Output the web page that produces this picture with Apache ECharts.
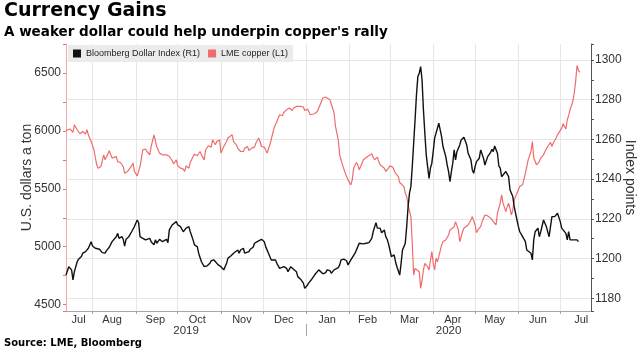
<!DOCTYPE html>
<html><head><meta charset="utf-8">
<script src="https://cdn.jsdelivr.net/npm/echarts@6/dist/echarts.min.js"></script>
<style>html,body{margin:0;padding:0;background:#fff}#c{width:642px;height:361px}</style>
</head><body><div id="c"></div>
<script>
const startDay = '2019-07-13';
const endDay = '2020-07-23';
const monthLabelDays = ['2019-07-22','2019-08-15','2019-09-15','2019-10-15','2019-11-16','2019-12-16','2020-01-16','2020-02-14','2020-03-15','2020-04-15','2020-05-15','2020-06-15','2020-07-16'];
const monthLabelTexts = ['Jul','Aug','Sep','Oct','Nov','Dec','Jan','Feb','Mar','Apr','May','Jun','Jul'];
const yearLabelDays = ['2019-10-07','2020-04-12'];
const yearLabelTexts = ['2019','2020'];
const yearBreakDay = '2020-01-01';
const seriesNames = ['Bloomberg Dollar Index (R1)','LME copper (L1)'];

const copperData = [
['2019-07-13',6004],['2019-07-16',6016],['2019-07-18',5986],['2019-07-19',6053],['2019-07-21',6010],['2019-07-23',5975],['2019-07-25',5995],['2019-07-27',5972],['2019-07-28',6010],['2019-07-29',5966],['2019-07-31',5908],
['2019-08-02',5837],['2019-08-04',5707],['2019-08-05',5678],['2019-08-07',5692],['2019-08-09',5793],['2019-08-10',5750],['2019-08-11',5765],['2019-08-13',5828],['2019-08-15',5765],['2019-08-16',5750],['2019-08-18',5779],['2019-08-19',5735],['2019-08-21',5727],['2019-08-23',5692],['2019-08-24',5635],['2019-08-26',5649],['2019-08-27',5664],['2019-08-29',5698],['2019-08-30',5722],['2019-08-31',5649],
['2019-09-02',5612],['2019-09-04',5692],['2019-09-06',5837],['2019-09-08',5843],['2019-09-09',5822],['2019-09-11',5793],['2019-09-12',5865],['2019-09-14',5966],['2019-09-16',5865],['2019-09-18',5808],['2019-09-20',5793],['2019-09-21',5785],['2019-09-23',5793],['2019-09-25',5779],['2019-09-27',5744],['2019-09-28',5715],['2019-09-30',5750],
['2019-10-01',5698],['2019-10-03',5678],['2019-10-05',5670],['2019-10-06',5649],['2019-10-07',5698],['2019-10-09',5678],['2019-10-10',5727],['2019-10-12',5779],['2019-10-13',5799],['2019-10-15',5785],['2019-10-17',5822],['2019-10-18',5793],['2019-10-20',5750],['2019-10-21',5837],['2019-10-23',5871],['2019-10-25',5860],['2019-10-26',5923],['2019-10-28',5880],['2019-10-29',5908],['2019-10-31',5923],
['2019-11-01',5808],['2019-11-03',5865],['2019-11-05',5908],['2019-11-06',5938],['2019-11-07',5923],['2019-11-09',5966],['2019-11-10',5908],['2019-11-12',5880],['2019-11-13',5851],['2019-11-15',5822],['2019-11-17',5822],['2019-11-18',5851],['2019-11-20',5865],['2019-11-21',5830],['2019-11-23',5851],['2019-11-25',5860],['2019-11-26',5895],['2019-11-28',5938],['2019-11-29',5908],['2019-11-30',5865],
['2019-12-02',5860],['2019-12-03',5851],['2019-12-04',5808],['2019-12-06',5880],['2019-12-07',5888],['2019-12-09',6024],['2019-12-11',6081],['2019-12-12',6096],['2019-12-13',6139],['2019-12-15',6131],['2019-12-16',6159],['2019-12-18',6183],['2019-12-19',6168],['2019-12-20',6197],['2019-12-22',6176],['2019-12-23',6197],['2019-12-25',6211],['2019-12-28',6211],['2019-12-30',6206],['2019-12-31',6176],
['2020-01-02',6189],['2020-01-04',6139],['2020-01-05',6131],['2020-01-07',6148],['2020-01-09',6168],['2020-01-10',6183],['2020-01-11',6226],['2020-01-13',6284],['2020-01-15',6292],['2020-01-16',6275],['2020-01-18',6269],['2020-01-19',6254],['2020-01-21',6154],['2020-01-22',6038],['2020-01-24',5923],['2020-01-25',5793],['2020-01-27',5707],['2020-01-29',5635],['2020-01-31',5577],
['2020-02-02',5534],['2020-02-03',5577],['2020-02-04',5678],['2020-02-06',5727],['2020-02-07',5707],['2020-02-08',5664],['2020-02-09',5692],['2020-02-11',5750],['2020-02-12',5765],['2020-02-14',5779],['2020-02-15',5793],['2020-02-17',5802],['2020-02-18',5773],['2020-02-19',5750],['2020-02-21',5773],['2020-02-22',5735],['2020-02-23',5707],['2020-02-24',5698],['2020-02-26',5678],['2020-02-27',5649],['2020-02-28',5635],['2020-02-29',5678],
['2020-03-01',5698],['2020-03-03',5687],['2020-03-04',5678],['2020-03-05',5635],['2020-03-07',5606],['2020-03-08',5554],['2020-03-09',5562],['2020-03-11',5519],['2020-03-12',5462],['2020-03-13',5433],['2020-03-14',5361],['2020-03-16',5260],['2020-03-17',5030],['2020-03-18',4755],['2020-03-19',4813],['2020-03-20',4827],['2020-03-22',4784],['2020-03-23',4640],['2020-03-24',4712],['2020-03-25',4799],['2020-03-26',4857],['2020-03-28',4827],['2020-03-29',4799],['2020-03-30',4784],['2020-03-31',4957],
['2020-04-01',4857],['2020-04-02',4799],['2020-04-03',4900],['2020-04-04',4870],['2020-04-05',4914],['2020-04-07',5015],['2020-04-08',5043],['2020-04-09',5030],['2020-04-10',5058],['2020-04-12',5101],['2020-04-13',5145],['2020-04-14',5130],['2020-04-16',5173],['2020-04-17',5216],['2020-04-19',5145],['2020-04-20',5043],['2020-04-22',5130],['2020-04-23',5159],['2020-04-24',5145],['2020-04-26',5188],['2020-04-28',5231],['2020-04-29',5260],
['2020-05-01',5188],['2020-05-02',5121],['2020-05-03',5145],['2020-05-05',5173],['2020-05-06',5216],['2020-05-08',5274],['2020-05-10',5266],['2020-05-11',5260],['2020-05-13',5237],['2020-05-14',5216],['2020-05-16',5188],['2020-05-17',5289],['2020-05-19',5376],['2020-05-20',5447],['2020-05-21',5376],['2020-05-23',5303],['2020-05-24',5346],['2020-05-25',5376],['2020-05-27',5274],['2020-05-28',5318],['2020-05-29',5404],['2020-05-30',5433],
['2020-06-01',5491],['2020-06-02',5519],['2020-06-04',5534],['2020-06-05',5534],['2020-06-06',5635],['2020-06-07',5692],['2020-06-08',5750],['2020-06-10',5822],['2020-06-11',5908],['2020-06-12',5765],['2020-06-13',5779],['2020-06-14',5707],['2020-06-16',5735],['2020-06-17',5765],['2020-06-19',5793],['2020-06-20',5822],['2020-06-22',5865],['2020-06-24',5900],['2020-06-25',5865],['2020-06-26',5895],['2020-06-28',5938],['2020-06-29',5966],['2020-06-30',5981],
['2020-07-02',6024],['2020-07-03',6061],['2020-07-05',6016],['2020-07-06',6096],['2020-07-07',6131],['2020-07-08',6183],['2020-07-10',6254],['2020-07-11',6327],['2020-07-12',6427],['2020-07-13',6563],['2020-07-14',6522],['2020-07-15',6505]
];

const dollarData = [
['2019-07-13',1191.7],['2019-07-15',1195.9],['2019-07-16',1196.8],['2019-07-17',1194.3],['2019-07-18',1189.2],['2019-07-19',1193.4],['2019-07-21',1198.4],['2019-07-22',1199.7],['2019-07-23',1199.3],['2019-07-24',1201.0],['2019-07-25',1202.7],['2019-07-27',1203.5],['2019-07-29',1205.2],['2019-07-31',1208.5],
['2019-08-01',1206.3],['2019-08-03',1205.2],['2019-08-04',1205.7],['2019-08-06',1204.7],['2019-08-08',1203.0],['2019-08-10',1202.7],['2019-08-11',1204.0],['2019-08-13',1205.7],['2019-08-15',1208.5],['2019-08-16',1209.4],['2019-08-18',1211.0],['2019-08-19',1212.7],['2019-08-20',1210.2],['2019-08-22',1211.0],['2019-08-23',1209.7],['2019-08-24',1206.3],['2019-08-25',1209.7],['2019-08-27',1211.0],['2019-08-29',1213.5],['2019-08-31',1216.1],
['2019-09-02',1219.4],['2019-09-03',1218.1],['2019-09-04',1211.0],['2019-09-06',1210.2],['2019-09-08',1209.4],['2019-09-09',1208.5],['2019-09-11',1210.2],['2019-09-12',1208.5],['2019-09-14',1206.9],['2019-09-15',1209.4],['2019-09-16',1207.7],['2019-09-18',1209.7],['2019-09-20',1208.5],['2019-09-21',1209.4],['2019-09-23',1209.7],['2019-09-24',1208.0],['2019-09-25',1214.4],['2019-09-27',1216.9],['2019-09-28',1217.8],['2019-09-30',1218.6],
['2019-10-01',1216.9],['2019-10-03',1216.1],['2019-10-05',1213.5],['2019-10-06',1212.7],['2019-10-07',1215.3],['2019-10-09',1216.1],['2019-10-10',1213.5],['2019-10-12',1209.4],['2019-10-13',1206.9],['2019-10-15',1206.0],['2019-10-16',1202.7],['2019-10-18',1198.4],['2019-10-20',1195.9],['2019-10-22',1196.3],['2019-10-24',1197.6],['2019-10-25',1198.9],['2019-10-27',1199.3],['2019-10-28',1198.4],['2019-10-30',1196.8],
['2019-11-01',1195.9],['2019-11-03',1194.3],['2019-11-05',1197.6],['2019-11-06',1200.2],['2019-11-08',1201.3],['2019-11-10',1202.7],['2019-11-11',1203.5],['2019-11-13',1204.3],['2019-11-14',1202.7],['2019-11-15',1204.3],['2019-11-17',1205.2],['2019-11-18',1202.7],['2019-11-19',1201.8],['2019-11-21',1203.5],['2019-11-22',1204.7],['2019-11-24',1205.7],['2019-11-25',1207.7],['2019-11-27',1208.5],['2019-11-28',1209.4],['2019-11-30',1209.7],
['2019-12-02',1208.5],['2019-12-03',1206.0],['2019-12-05',1202.7],['2019-12-07',1199.3],['2019-12-08',1200.2],['2019-12-10',1199.3],['2019-12-11',1197.6],['2019-12-13',1195.1],['2019-12-14',1194.3],['2019-12-16',1195.9],['2019-12-18',1195.1],['2019-12-19',1193.4],['2019-12-21',1195.9],['2019-12-23',1194.6],['2019-12-25',1193.4],['2019-12-26',1190.9],['2019-12-28',1189.6],['2019-12-30',1187.6],['2019-12-31',1185.0],
['2020-01-02',1186.7],['2020-01-03',1187.9],['2020-01-05',1189.6],['2020-01-07',1191.7],['2020-01-08',1192.6],['2020-01-10',1194.3],['2020-01-11',1193.4],['2020-01-13',1192.3],['2020-01-15',1192.9],['2020-01-16',1194.3],['2020-01-18',1193.9],['2020-01-19',1192.6],['2020-01-21',1194.3],['2020-01-22',1194.6],['2020-01-24',1195.4],['2020-01-25',1196.8],['2020-01-26',1199.3],['2020-01-28',1199.7],['2020-01-30',1198.9],['2020-01-31',1196.8],
['2020-02-02',1199.3],['2020-02-03',1200.2],['2020-02-05',1202.7],['2020-02-07',1206.0],['2020-02-08',1207.7],['2020-02-09',1206.9],['2020-02-11',1207.4],['2020-02-13',1207.7],['2020-02-15',1208.0],['2020-02-17',1210.2],['2020-02-18',1213.5],['2020-02-20',1218.1],['2020-02-21',1215.3],['2020-02-22',1214.4],['2020-02-23',1215.3],['2020-02-24',1213.0],['2020-02-26',1214.4],['2020-02-27',1211.0],['2020-02-28',1209.7],['2020-02-29',1207.4],
['2020-03-01',1204.3],['2020-03-02',1201.0],['2020-03-04',1201.8],['2020-03-05',1198.4],['2020-03-06',1195.9],['2020-03-08',1191.7],['2020-03-09',1197.6],['2020-03-10',1204.3],['2020-03-12',1207.7],['2020-03-13',1216.1],['2020-03-14',1226.1],['2020-03-15',1232.9],['2020-03-16',1236.2],['2020-03-17',1246.3],['2020-03-18',1258.1],['2020-03-19',1269.8],['2020-03-20',1282.4],['2020-03-21',1291.6],['2020-03-22',1293.3],['2020-03-23',1296.6],['2020-03-24',1289.9],['2020-03-25',1274.8],['2020-03-26',1263.1],['2020-03-27',1252.2],['2020-03-28',1246.3],['2020-03-29',1240.4],['2020-03-30',1245.5],['2020-03-31',1248.0],
['2020-04-01',1253.8],['2020-04-02',1260.6],['2020-04-04',1265.6],['2020-04-05',1268.2],['2020-04-06',1267.3],['2020-04-07',1261.4],['2020-04-08',1256.4],['2020-04-09',1256.7],['2020-04-10',1251.3],['2020-04-11',1247.1],['2020-04-12',1243.8],['2020-04-13',1238.7],['2020-04-14',1243.8],['2020-04-15',1248.0],['2020-04-16',1254.7],['2020-04-17',1249.7],['2020-04-18',1253.8],['2020-04-20',1257.2],['2020-04-21',1259.7],['2020-04-23',1261.1],['2020-04-24',1260.6],['2020-04-25',1257.2],['2020-04-26',1253.0],['2020-04-28',1249.7],['2020-04-29',1244.6],['2020-04-30',1242.9],
['2020-05-01',1246.3],['2020-05-02',1248.8],['2020-05-04',1250.5],['2020-05-05',1254.7],['2020-05-06',1255.5],['2020-05-07',1250.5],['2020-05-08',1247.1],['2020-05-10',1251.3],['2020-05-11',1252.2],['2020-05-12',1253.3],['2020-05-13',1255.0],['2020-05-14',1253.8],['2020-05-15',1256.7],['2020-05-17',1253.0],['2020-05-18',1246.6],['2020-05-19',1245.5],['2020-05-20',1241.2],['2020-05-21',1240.9],['2020-05-23',1243.8],['2020-05-24',1244.6],['2020-05-25',1241.2],['2020-05-26',1234.5],['2020-05-27',1233.7],['2020-05-28',1231.2],['2020-05-29',1226.1],['2020-05-31',1219.4],
['2020-06-01',1216.1],['2020-06-02',1213.5],['2020-06-04',1211.0],['2020-06-05',1210.2],['2020-06-06',1208.5],['2020-06-07',1204.3],['2020-06-08',1204.7],['2020-06-10',1202.7],['2020-06-11',1199.3],['2020-06-12',1209.4],['2020-06-13',1213.5],['2020-06-14',1212.7],['2020-06-15',1215.3],['2020-06-16',1211.0],['2020-06-17',1213.5],['2020-06-18',1214.4],['2020-06-19',1219.4],['2020-06-20',1219.4],['2020-06-21',1216.1],['2020-06-23',1211.0],['2020-06-24',1216.1],['2020-06-25',1221.1],['2020-06-26',1222.0],['2020-06-27',1221.1],['2020-06-29',1222.8],['2020-06-30',1222.0],
['2020-07-01',1218.6],['2020-07-02',1215.3],['2020-07-03',1214.4],['2020-07-05',1212.7],['2020-07-06',1209.4],['2020-07-07',1213.5],['2020-07-08',1209.4],['2020-07-09',1210.2],['2020-07-11',1209.4],['2020-07-12',1209.7],['2020-07-13',1209.4],['2020-07-14',1208.5]
];

function buildDays(a, b) {
  const out = [];
  const p = a.split('-').map(Number), q = b.split('-').map(Number);
  let t = Date.UTC(p[0], p[1] - 1, p[2]);
  const e = Date.UTC(q[0], q[1] - 1, q[2]);
  while (t <= e) { out.push(new Date(t).toISOString().slice(0, 10)); t += 86400000; }
  return out;
}
const days = buildDays(startDay, endDay);

const FONT = "'Liberation Sans', Arial, sans-serif";
const TITLEFONT = "'DejaVu Sans', Verdana, sans-serif";
const RED = '#f06c6c';
const BLACK = '#111111';
const GRID = '#e6e6e6';
const AXIS = '#a6a6a6';

const chart = echarts.init(document.getElementById('c'), null, {renderer: 'canvas'});
chart.setOption({
  animation: false,
  backgroundColor: '#ffffff',
  title: [
    {left: 4, top: 2, padding: 0, text: 'Currency Gains',
     textStyle: {fontFamily: TITLEFONT, fontWeight: 'bold', fontSize: 19, color: '#000'}},
    {left: 4, top: 25, padding: 0, text: "A weaker dollar could help underpin copper's rally",
     textStyle: {fontFamily: TITLEFONT, fontWeight: 'bold', fontSize: 13.5, color: '#000'}},
    {left: 4, top: 338, padding: 0, text: 'Source: LME, Bloomberg',
     textStyle: {fontFamily: TITLEFONT, fontWeight: 'bold', fontSize: 10, color: '#000'}}
  ],
  legend: {
    left: 68, top: 45, orient: 'horizontal',
    padding: [4, 5, 4, 5], backgroundColor: '#ebebeb',
    itemWidth: 8, itemHeight: 8, itemGap: 8, icon: 'rect',
    data: seriesNames,
    textStyle: {fontFamily: FONT, fontSize: 9, color: '#222'}
  },
  grid: {left: 66, right: 51, top: 44, bottom: 50, containLabel: false, outerBoundsMode: 'none'},
  xAxis: [
    {
      type: 'category', data: days, boundaryGap: false,
      axisLine: {show: true, lineStyle: {color: AXIS, width: 1}},
      axisTick: {show: true, interval: (i, v) => v.slice(8) === '01', length: 3, lineStyle: {color: AXIS}},
      axisLabel: {
        interval: (i, v) => monthLabelDays.indexOf(v) >= 0,
        formatter: v => monthLabelTexts[monthLabelDays.indexOf(v)] || '',
        fontFamily: FONT, fontSize: 11, color: '#333', margin: 3
      },
      splitLine: {show: true, interval: (i, v) => v.slice(8) === '01', lineStyle: {color: GRID, width: 1}}
    },
    {
      type: 'category', data: days, boundaryGap: false, position: 'bottom', offset: 13,
      axisLine: {show: false},
      axisTick: {show: true, interval: (i, v) => v === yearBreakDay, length: 12, lineStyle: {color: AXIS}},
      axisLabel: {
        interval: (i, v) => yearLabelDays.indexOf(v) >= 0,
        formatter: v => yearLabelTexts[yearLabelDays.indexOf(v)] || '',
        fontFamily: FONT, fontSize: 11.5, color: '#333', margin: 1
      },
      splitLine: {show: false}
    }
  ],
  yAxis: [
    {
      type: 'value', position: 'left', min: 4445, max: 6750, splitNumber: 5,
      axisLine: {show: true, lineStyle: {color: '#f3a9a9', width: 1}},
      axisTick: {show: true, length: 3, lineStyle: {color: RED}},
      minorTick: {show: true, splitNumber: 2, length: 3, lineStyle: {color: RED}},
      axisLabel: {fontFamily: FONT, fontSize: 12, color: '#333', margin: 5, showMinLabel: false, showMaxLabel: false,
                  formatter: v => String(v)},
      splitLine: {show: false},
      name: 'U.S. dollars a ton', nameLocation: 'middle', nameGap: 32, nameMoveOverlap: false,
      nameTextStyle: {fontFamily: FONT, fontSize: 14, color: '#333'}
    },
    {
      type: 'value', position: 'right', min: 1173.6, max: 1308, splitNumber: 7,
      axisLine: {show: true, lineStyle: {color: '#555', width: 1}},
      axisTick: {show: true, length: 3, lineStyle: {color: '#555'}},
      minorTick: {show: true, splitNumber: 2, length: 3, lineStyle: {color: '#555'}},
      axisLabel: {fontFamily: FONT, fontSize: 12, color: '#333', margin: 4, showMinLabel: false, showMaxLabel: false,
                  formatter: v => String(v)},
      splitLine: {show: true, showMinLine: false, showMaxLine: false, lineStyle: {color: GRID, width: 1}},
      name: 'Index points', nameLocation: 'middle', nameRotate: -90, nameGap: 32, nameMoveOverlap: false,
      nameTextStyle: {fontFamily: FONT, fontSize: 14, color: '#333'}
    }
  ],
  series: [
    {
      name: seriesNames[1], type: 'line', xAxisIndex: 0, yAxisIndex: 0,
      data: copperData, showSymbol: false, symbol: 'none',
      lineStyle: {color: RED, width: 1.2}, itemStyle: {color: RED},
      emphasis: {disabled: true}
    },
    {
      name: seriesNames[0], type: 'line', xAxisIndex: 0, yAxisIndex: 1,
      data: dollarData, showSymbol: false, symbol: 'none',
      lineStyle: {color: BLACK, width: 1.4}, itemStyle: {color: BLACK},
      emphasis: {disabled: true}
    }
  ]
});
</script>
</body></html>
